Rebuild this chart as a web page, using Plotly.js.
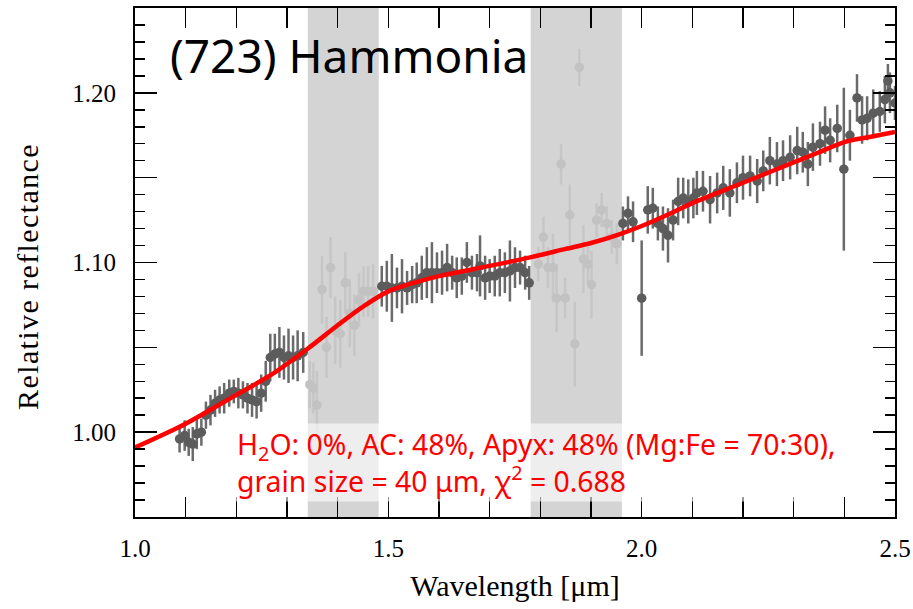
<!DOCTYPE html>
<html>
<head>
<meta charset="utf-8">
<script src="https://cdn.plot.ly/plotly-3.0.1.min.js"></script>
<style>html,body{margin:0;padding:0;background:#fff;}#chart{width:913px;height:609px;}</style>
</head>
<body>
<div id="chart"></div>
<script>
// Measured spectrum (points used in fit)
const wl = [1.088,1.098,1.106,1.114,1.122,1.131,1.140,1.149,1.158,1.167,1.176,1.186,1.195,1.204,1.213,1.222,1.231,1.240,1.249,1.258,1.267,1.276,1.285,1.294,1.303,1.312,1.321,1.332,
  1.487,1.497,1.507,1.517,1.527,1.537,1.547,1.556,1.566,1.576,1.586,1.596,1.606,1.616,1.626,1.635,1.645,1.655,1.665,1.675,1.681,1.691,1.700,1.710,1.720,1.730,1.740,1.750,1.760,1.770,1.778,
  1.963,1.973,1.983,2.000,2.012,2.022,2.032,2.042,2.052,2.062,2.072,2.082,2.092,2.102,2.109,2.121,2.135,2.149,2.161,2.174,2.188,2.200,2.214,2.228,2.240,2.253,2.267,2.279,2.293,2.307,2.318,2.328,2.338,2.352,2.362,2.372,2.386,2.399,2.411,2.425,2.435,2.445,2.457,2.470,2.480,2.486,2.490,2.500];
const refl = [0.996,0.998,0.994,0.993,0.999,1.000,1.010,1.013,1.017,1.019,1.020,1.023,1.024,1.023,1.022,1.020,1.019,1.018,1.023,1.030,1.044,1.046,1.047,1.044,1.045,1.044,1.045,1.047,
  1.086,1.086,1.085,1.085,1.086,1.085,1.087,1.088,1.091,1.094,1.094,1.094,1.094,1.097,1.094,1.091,1.092,1.100,1.094,1.094,1.098,1.091,1.092,1.092,1.094,1.094,1.095,1.097,1.097,1.094,1.088,
  1.123,1.129,1.124,1.079,1.131,1.132,1.123,1.120,1.116,1.125,1.136,1.138,1.136,1.138,1.141,1.142,1.137,1.141,1.144,1.141,1.147,1.150,1.151,1.148,1.154,1.160,1.158,1.160,1.162,1.166,1.165,1.158,1.168,1.170,1.178,1.172,1.179,1.155,1.175,1.197,1.184,1.185,1.188,1.189,1.196,1.207,1.200,1.194];
const reflErr = [0.008,0.009,0.008,0.010,0.009,0.008,0.008,0.009,0.008,0.008,0.009,0.008,0.007,0.009,0.008,0.009,0.010,0.010,0.011,0.012,0.014,0.012,0.015,0.013,0.016,0.013,0.015,0.012,
  0.012,0.015,0.020,0.012,0.016,0.010,0.011,0.012,0.013,0.015,0.018,0.012,0.013,0.014,0.010,0.012,0.011,0.012,0.010,0.011,0.018,0.013,0.010,0.012,0.014,0.012,0.018,0.012,0.010,0.010,0.010,
  0.010,0.010,0.012,0.034,0.014,0.012,0.010,0.013,0.016,0.012,0.014,0.012,0.013,0.012,0.013,0.012,0.014,0.012,0.013,0.014,0.012,0.013,0.012,0.013,0.012,0.014,0.013,0.012,0.013,0.014,0.012,0.013,0.014,0.013,0.014,0.013,0.014,0.048,0.015,0.014,0.014,0.013,0.014,0.012,0.014,0.010,0.012,0.010];

// Points inside the telluric absorption bands (excluded)
const wlMasked = [1.345,1.352,1.359,1.369,1.378,1.386,1.395,1.405,1.415,1.424,1.433,1.442,1.451,1.460,1.470,
  1.796,1.806,1.815,1.825,1.832,1.841,1.849,1.858,1.868,1.877,1.885,1.894,1.901,1.911,1.921,1.931,1.941,1.951];
const reflMasked = [1.028,1.026,1.016,1.084,1.050,1.097,1.060,1.058,1.088,1.070,1.063,1.078,1.083,1.083,1.083,
  1.099,1.115,1.097,1.097,1.079,1.158,1.079,1.128,1.052,1.215,1.102,1.099,1.087,1.125,1.131,1.123,1.115,1.111];
const errMasked = [0.014,0.015,0.020,0.020,0.018,0.018,0.020,0.020,0.018,0.020,0.018,0.016,0.015,0.015,0.016,
  0.010,0.012,0.012,0.020,0.020,0.012,0.012,0.018,0.025,0.011,0.020,0.012,0.020,0.010,0.010,0.010,0.010,0.012];

// Best-fit model
const modelWl = [1.00,1.10,1.20,1.27,1.34,1.40,1.45,1.50,1.55,1.60,1.70,1.78,1.85,1.90,1.95,2.00,2.05,2.10,2.20,2.30,2.35,2.40,2.45,2.50];
const modelRefl = [0.991,1.005,1.022,1.034,1.049,1.063,1.074,1.083,1.088,1.092,1.098,1.103,1.108,1.1115,1.116,1.1215,1.128,1.135,1.147,1.159,1.165,1.171,1.174,1.177];

// Masked bands
const bandStart = [1.341, 1.781];
const bandEnd = [1.481, 1.961];

const yLabelVals = [1.00,1.10,1.20];
const yLabelText = ['1.00','1.10','1.20'];
const yHalfVals = [0.95,1.05,1.15,1.25];
const xTickVals = [1.0,1.5,2.0,2.5];
const xTickText = ['1.0','1.5','2.0','2.5'];

const titleText = '(723) Hammonia';
const xTitleText = 'Wavelength [μm]';
const yTitleText = 'Relative reflectance';
const fitText = 'H<sub>2</sub>O: 0%, AC: 48%, Apyx: 48% (Mg:Fe = 70:30),<br>grain size = 40 μm, χ<sup>2</sup> = 0.688';

const traces = [
  {x: wlMasked, y: reflMasked, type:'scatter', mode:'markers',
   marker:{size:9.5, color:'#c2c2c2'},
   error_y:{type:'data', array: errMasked, visible:true, color:'#c6c6c6', thickness:2.5, width:0},
   hoverinfo:'skip', showlegend:false},
  {x: wl, y: refl, type:'scatter', mode:'markers',
   marker:{size:9.5, color:'#5c5c5c'},
   error_y:{type:'data', array: reflErr, visible:true, color:'#6a6a6a', thickness:2.5, width:0},
   showlegend:false},
  {x: modelWl, y: modelRefl, type:'scatter', mode:'lines',
   line:{color:'#ff0000', width:4.5, shape:'spline', smoothing:0.8},
   showlegend:false},
  {x:[null], y:[null], yaxis:'y2', type:'scatter', mode:'markers', showlegend:false, hoverinfo:'skip'}
];

const shapes = bandStart.map((s,i)=>({type:'rect', xref:'x', yref:'paper', x0:s, x1:bandEnd[i], y0:0, y1:1,
  fillcolor:'#d4d4d4', line:{width:0}, layer:'below'}));

const serif = 'Liberation Serif, Times New Roman, serif';
const layout = {
  width:913, height:609,
  margin:{l:135, r:18, t:8, b:92},
  paper_bgcolor:'#ffffff', plot_bgcolor:'#ffffff',
  showlegend:false,
  shapes: shapes,
  xaxis:{range:[1.0,2.5], tickmode:'array', tickvals:xTickVals, ticktext:xTickText,
    ticks:'inside', ticklen:20, tickwidth:1.5, tickcolor:'#000',
    minor:{dtick:0.1, tick0:1.0, ticks:'inside', ticklen:11, tickwidth:1.5, tickcolor:'#000', showgrid:false},
    showline:true, linecolor:'#000', linewidth:2, mirror:'allticks', showgrid:false, zeroline:false,
    tickfont:{family:serif, size:25, color:'#000'}, ticklabelstandoff:8,
    title:{text:xTitleText, font:{family:serif, size:30, color:'#000'}, standoff:14}},
  yaxis:{range:[0.95,1.25], tickmode:'array', tickvals:yLabelVals, ticktext:yLabelText,
    ticks:'inside', ticklen:22, tickwidth:1.5, tickcolor:'#000',
    minor:{dtick:0.01, tick0:0.95, ticks:'inside', ticklen:10, tickwidth:1.5, tickcolor:'#000', showgrid:false},
    showline:true, linecolor:'#000', linewidth:2, mirror:'allticks', showgrid:false, zeroline:false,
    tickfont:{family:serif, size:25, color:'#000'}, ticklabelstandoff:12},
  yaxis2:{overlaying:'y', matches:'y', side:'left', range:[0.95,1.25], tickmode:'array', tickvals:yHalfVals,
    showticklabels:false, ticks:'inside', ticklen:22, tickwidth:1.5, tickcolor:'#000',
    showline:false, mirror:'ticks', showgrid:false, zeroline:false},
  annotations:[
    {text:titleText, xref:'paper', yref:'paper', x:0.044, y:0.908, xanchor:'left', yanchor:'middle',
     showarrow:false, font:{family:'Noto Sans, sans-serif', size:46, color:'#000'}},
    {text:fitText, xref:'paper', yref:'paper', x:0.132, y:0.108, xanchor:'left', yanchor:'middle', align:'left',
     showarrow:false, bgcolor:'rgba(255,255,255,0.6)', borderpad:1,
     font:{family:'Noto Sans, sans-serif', size:28.4, color:'#ff0000'}},
    {text:'<span style="letter-spacing:1.4px">' + yTitleText + '</span>', xref:'paper', yref:'paper',
     x:-0.1408, y:0.4735, xanchor:'center', yanchor:'middle', textangle:-90,
     showarrow:false, font:{family:serif, size:30, color:'#000'}}
  ]
};

Plotly.newPlot('chart', traces, layout, {displayModeBar:false, staticPlot:true});
</script>
</body>
</html>
